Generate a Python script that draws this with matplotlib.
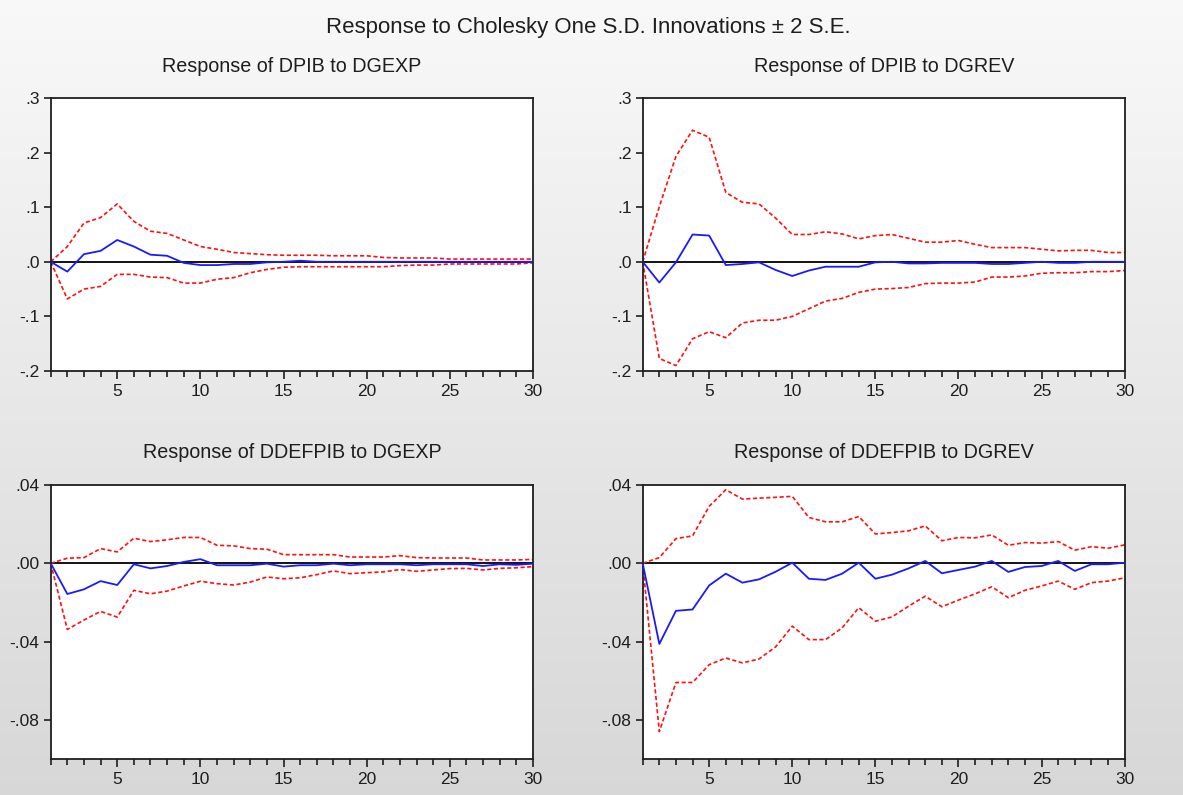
import numpy as np
import matplotlib
matplotlib.use("Agg")
import matplotlib.pyplot as plt
from matplotlib.ticker import FixedLocator, MultipleLocator

plt.rcParams['font.family'] = ['Liberation Sans', 'DejaVu Sans']

periods = list(range(1, 31))

# Response of DPIB to DGEXP
p1_resp = [0, -0.018, 0.014, 0.020, 0.040, 0.028, 0.013, 0.011, -0.002, -0.006,
           -0.006, -0.004, -0.004, -0.001, 0.000, 0.002, 0.000, 0.000, 0.000, 0.000,
           0.000, 0.000, 0.000, 0.000, 0.000, 0.000, 0.000, 0.000, 0.000, 0.000]
p1_up = [0, 0.028, 0.071, 0.081, 0.106, 0.074, 0.056, 0.052, 0.040, 0.028,
         0.023, 0.017, 0.015, 0.013, 0.012, 0.012, 0.012, 0.011, 0.011, 0.011,
         0.008, 0.007, 0.007, 0.007, 0.005, 0.005, 0.005, 0.005, 0.005, 0.005]
p1_lo = [0, -0.068, -0.050, -0.045, -0.023, -0.023, -0.028, -0.029, -0.039, -0.039,
         -0.032, -0.029, -0.020, -0.014, -0.010, -0.009, -0.009, -0.009, -0.009, -0.009,
         -0.009, -0.007, -0.006, -0.006, -0.004, -0.004, -0.004, -0.004, -0.004, -0.002]

# Response of DPIB to DGREV
p2_resp = [0, -0.038, -0.001, 0.050, 0.048, -0.006, -0.004, -0.001, -0.015, -0.026,
           -0.016, -0.009, -0.009, -0.009, -0.001, 0.000, -0.003, -0.003, -0.002, -0.002,
           -0.002, -0.004, -0.004, -0.002, 0.000, -0.002, -0.002, 0.000, 0.000, 0.000]
p2_up = [0, 0.101, 0.193, 0.241, 0.228, 0.127, 0.109, 0.106, 0.080, 0.050,
         0.050, 0.055, 0.051, 0.042, 0.048, 0.050, 0.043, 0.036, 0.036, 0.039,
         0.032, 0.026, 0.026, 0.026, 0.023, 0.020, 0.021, 0.021, 0.017, 0.017]
p2_lo = [0, -0.177, -0.190, -0.141, -0.128, -0.139, -0.112, -0.107, -0.107, -0.100,
         -0.086, -0.072, -0.067, -0.056, -0.050, -0.049, -0.047, -0.040, -0.039, -0.039,
         -0.037, -0.028, -0.028, -0.026, -0.021, -0.020, -0.020, -0.018, -0.018, -0.016]

# Response of DDEFPIB to DGEXP
p3_resp = [0, -0.0157, -0.0133, -0.0091, -0.0111, -0.0005, -0.0026, -0.0014, 0.0007, 0.0021,
           -0.0010, -0.0010, -0.0010, -0.0002, -0.0017, -0.0010, -0.0010, -0.0002, -0.0010, -0.0005,
           -0.0005, -0.0005, -0.0010, -0.0005, -0.0005, -0.0005, -0.0014, -0.0005, -0.0008, -0.0002]
p3_up = [0, 0.0026, 0.0029, 0.0075, 0.0058, 0.0128, 0.0111, 0.0120, 0.0132, 0.0132,
         0.0092, 0.0089, 0.0075, 0.0072, 0.0044, 0.0044, 0.0044, 0.0044, 0.0032, 0.0032,
         0.0032, 0.0039, 0.0029, 0.0027, 0.0027, 0.0027, 0.0017, 0.0017, 0.0017, 0.0020]
p3_lo = [0, -0.0338, -0.0290, -0.0246, -0.0275, -0.0138, -0.0156, -0.0142, -0.0116, -0.0092,
         -0.0104, -0.0111, -0.0096, -0.0070, -0.0079, -0.0074, -0.0058, -0.0039, -0.0053, -0.0048,
         -0.0044, -0.0032, -0.0041, -0.0034, -0.0027, -0.0026, -0.0034, -0.0026, -0.0023, -0.0017]

# Response of DDEFPIB to DGREV
p4_resp = [0, -0.0412, -0.0243, -0.0236, -0.0113, -0.0053, -0.0099, -0.0082, -0.0043, 0.0003,
           -0.0079, -0.0085, -0.0053, 0.0003, -0.0079, -0.0058, -0.0026, 0.0012, -0.0051, -0.0034,
           -0.0017, 0.0012, -0.0044, -0.0019, -0.0014, 0.0012, -0.0039, -0.0005, -0.0005, 0.0003]
p4_up = [0, 0.0029, 0.0126, 0.0140, 0.0291, 0.0376, 0.0328, 0.0333, 0.0337, 0.0342,
         0.0234, 0.0212, 0.0212, 0.0239, 0.0150, 0.0157, 0.0166, 0.0191, 0.0115, 0.0132,
         0.0130, 0.0145, 0.0092, 0.0106, 0.0103, 0.0111, 0.0067, 0.0085, 0.0077, 0.0094]
p4_lo = [0, -0.0860, -0.0609, -0.0609, -0.0518, -0.0484, -0.0509, -0.0489, -0.0427, -0.0321,
         -0.0390, -0.0390, -0.0330, -0.0227, -0.0296, -0.0274, -0.0219, -0.0168, -0.0222, -0.0188,
         -0.0156, -0.0120, -0.0176, -0.0138, -0.0116, -0.0091, -0.0133, -0.0099, -0.0091, -0.0074]

titles = ["Response of DPIB to DGEXP", "Response of DPIB to DGREV",
          "Response of DDEFPIB to DGEXP", "Response of DDEFPIB to DGREV"]
main_title = "Response to Cholesky One S.D. Innovations \u00b1 2 S.E."

top_ticks = [-0.2, -0.1, 0.0, 0.1, 0.2, 0.3]
top_labels = ["-.2", "-.1", ".0", ".1", ".2", ".3"]
bot_ticks = [-0.08, -0.04, 0.0, 0.04]
bot_labels = ["-.08", "-.04", ".00", ".04"]
x_major = [5, 10, 15, 20, 25, 30]

W, H = 1183, 795
fig = plt.figure(figsize=(W / 100, H / 100), dpi=100)

# background gradient
bg = fig.add_axes([0, 0, 1, 1], zorder=-10)
grad = np.linspace(0.975, 0.845, 256).reshape(-1, 1)
bg.imshow(np.dstack([grad, grad, grad]), aspect='auto', extent=[0, 1, 0, 1], origin='upper')
bg.axis('off')

def px_rect(l, t, r, b):
    return [l / W, 1 - b / H, (r - l) / W, (b - t) / H]

rects = [px_rect(50.7, 98, 533, 371), px_rect(642.7, 98, 1124.7, 371),
         px_rect(50.7, 485, 533, 759), px_rect(642.7, 485, 1124.7, 759)]
title_y = [67, 67, 453, 453]
data = [(p1_resp, p1_up, p1_lo), (p2_resp, p2_up, p2_lo),
        (p3_resp, p3_up, p3_lo), (p4_resp, p4_up, p4_lo)]

txt = '#1e1e1e'
for i, (rect, (resp, up, lo), title) in enumerate(zip(rects, data, titles)):
    ax = fig.add_axes(rect)
    ax.set_facecolor('white')
    ax.axhline(0, color='black', lw=1.3, zorder=1)
    ax.plot(periods, up, color='#ff1010', lw=1.2, ls=(0, (2.5, 1.5)), zorder=2)
    ax.plot(periods, lo, color='#ff1010', lw=1.2, ls=(0, (2.5, 1.5)), zorder=2)
    ax.plot(periods, resp, color='#1a1aff', lw=1.3, zorder=3)
    ax.set_xlim(1, 30)
    if i < 2:
        ax.set_ylim(-0.2, 0.3)
        ax.set_yticks(top_ticks)
        ax.set_yticklabels(top_labels)
    else:
        ax.set_ylim(-0.1, 0.04)
        ax.set_yticks(bot_ticks)
        ax.set_yticklabels(bot_labels)
    ax.xaxis.set_major_locator(FixedLocator(x_major))
    ax.xaxis.set_minor_locator(MultipleLocator(1))
    ax.tick_params(axis='x', which='major', direction='out', length=6, width=1.2,
                   labelsize=12.5, pad=3, colors=txt)
    ax.tick_params(axis='x', which='minor', direction='out', length=4, width=1.2, colors=txt)
    ax.tick_params(axis='y', direction='out', length=5, width=1.2, labelsize=12.5, pad=3,
                   colors=txt)
    for s in ax.spines.values():
        s.set_linewidth(1.3)
        s.set_color(txt)
    cx = rect[0] + rect[2] / 2
    fig.text(cx, 1 - title_y[i] / H, title, ha='center', va='center',
             fontsize=14.2, color=txt)

fig.text(0.497, 1 - 28 / H, main_title, ha='center', va='center', fontsize=16, color=txt)

fig.savefig("out.png", dpi=100)
